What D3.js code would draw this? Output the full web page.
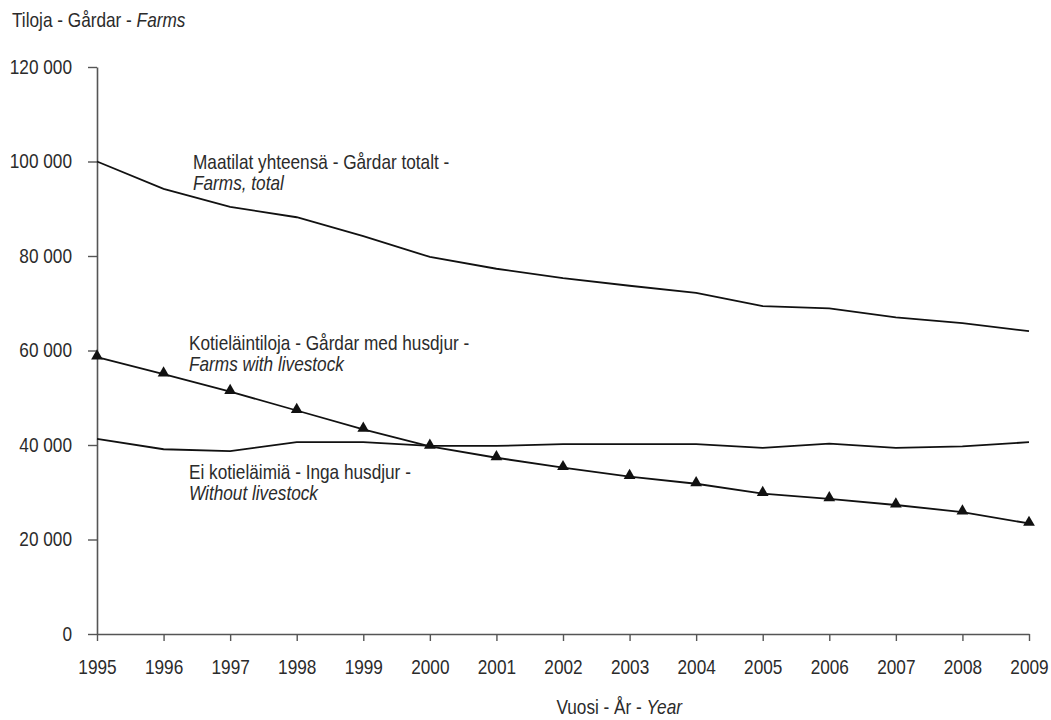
<!DOCTYPE html>
<html><head><meta charset="utf-8">
<script src="https://cdn.jsdelivr.net/npm/d3@7"></script>
<style>
body{margin:0;background:#fff;}
svg text{font-family:"Liberation Sans",Arial,sans-serif;fill:#2b2b2b;}
</style></head><body>
<svg id="c" width="1051" height="720"></svg>
<script>
const years = [1995,1996,1997,1998,1999,2000,2001,2002,2003,2004,2005,2006,2007,2008,2009];
const farmsTotal = [100000,94200,90400,88200,84200,79800,77300,75300,73700,72200,69400,68900,67000,65800,64100];
const withLivestock = [58600,55000,51300,47300,43300,39700,37300,35200,33300,31800,29700,28600,27300,25800,23400];
const withoutLivestock = [41300,39100,38700,40600,40600,39800,39800,40200,40200,40200,39400,40300,39400,39700,40600];
const yTicks = [0,20000,40000,60000,80000,100000,120000];

const FS = "21px";
const SX = 0.82; // horizontal condensation (narrow face)
const svg = d3.select("#c");
const x = d3.scaleLinear().domain([1995,2009]).range([97,1029]);
const y = d3.scaleLinear().domain([0,120000]).range([634,67]);
const fmt = v => v === 0 ? "0" : d3.format(",")(v).replace(/,/g," ");

function narrow(sel){
  sel.each(function(){
    const t = d3.select(this);
    const tx = +t.attr("x") || 0, ty = +t.attr("y") || 0;
    t.attr("x",0).attr("y",0).attr("transform",`translate(${tx},${ty}) scale(${SX},1)`);
  });
}

// axes
const yAxis = d3.axisLeft(y).tickValues(yTicks).tickSize(9).tickSizeOuter(0).tickFormat(fmt).tickPadding(16);
const gy = svg.append("g").attr("transform","translate(97,0)").call(yAxis);
gy.select(".domain").attr("stroke","#555").attr("stroke-width",1.6);
gy.selectAll(".tick line").attr("stroke","#555").attr("stroke-width",1.4);
gy.selectAll(".tick text").style("font-size",FS).attr("dy","0.3em").call(narrow);

const xAxis = d3.axisBottom(x).tickValues(years).tickSize(7).tickSizeOuter(0).tickFormat(d3.format("d")).tickPadding(18);
const gx = svg.append("g").attr("transform","translate(0,634)").call(xAxis);
gx.select(".domain").attr("stroke","#555").attr("stroke-width",1.6);
gx.selectAll(".tick line").attr("stroke","#555").attr("stroke-width",1.4);
gx.selectAll(".tick text").style("font-size",FS).call(narrow);

// lines
const line = d3.line().x((d,i)=>x(years[i])).y(d=>y(d));
[farmsTotal, withoutLivestock, withLivestock].forEach(s=>{
  svg.append("path").attr("d",line(s)).attr("fill","none").attr("stroke","#111").attr("stroke-width",1.8);
});
svg.append("g").selectAll("path").data(withLivestock).join("path")
  .attr("d", d3.symbol().type(d3.symbolTriangle).size(60))
  .attr("transform",(d,i)=>`translate(${x(years[i])},${y(d)-1})`)
  .attr("fill","#111");

// titles
function label(xp, yp, parts, anchor){
  const t = svg.append("text").attr("x",xp).attr("y",yp).style("font-size",FS).attr("text-anchor",anchor||"start");
  parts.forEach(p=>t.append("tspan").text(p[0]).style("font-style",p[1]?"italic":"normal"));
  t.call(narrow);
}
label(12,27,[["Tiloja - Gårdar - ",0],["Farms",1]]);
label(682,714,[["Vuosi - År - ",0],["Year",1]],"end");
label(193,169,[["Maatilat yhteensä - Gårdar totalt -",0]]);
label(193,190,[["Farms, total",1]]);
label(189,350,[["Kotieläintiloja - Gårdar med husdjur -",0]]);
label(189,371,[["Farms with livestock",1]]);
label(189,479,[["Ei kotieläimiä - Inga husdjur -",0]]);
label(189,500,[["Without livestock",1]]);
</script></body></html>
